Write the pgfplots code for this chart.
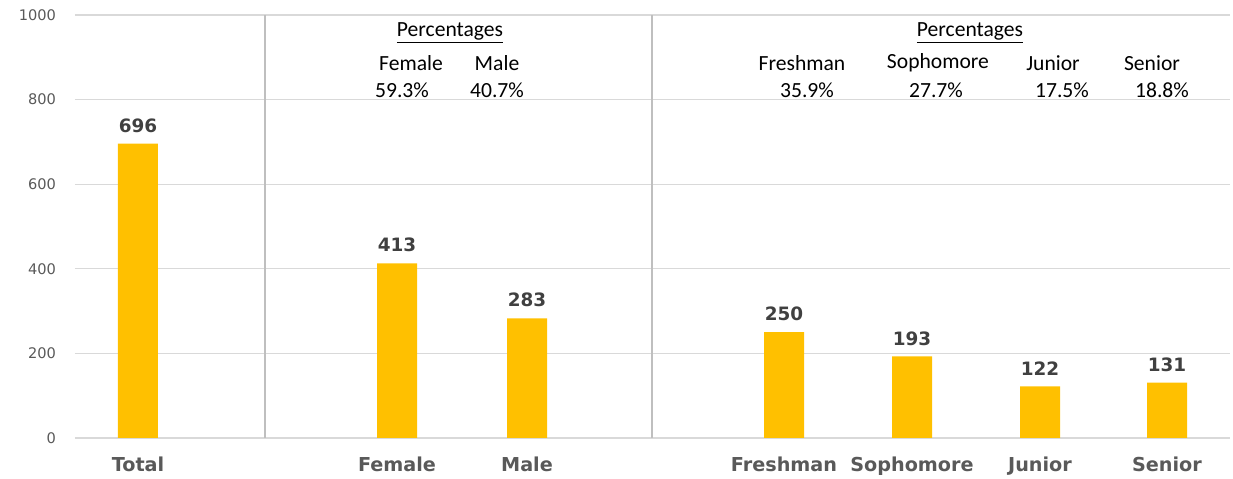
\documentclass[border=0pt]{standalone}
\usepackage{fontspec}
\setmainfont{Carlito}
\newfontfamily\dejavu{DejaVu Sans}
\usepackage{pgfplots}
\pgfplotsset{compat=1.18}
\definecolor{barc}{HTML}{FFC000}
\definecolor{gridc}{HTML}{D9D9D9}
\definecolor{sepc}{HTML}{BFBFBF}
\definecolor{tickc}{HTML}{595959}
\definecolor{labc}{HTML}{404040}
\begin{document}
\begin{tikzpicture}
\begin{axis}[
  scale only axis, width=577.5pt, height=211.5pt,
  xmin=75, xmax=1230, ymin=0, ymax=1000,
  axis line style={draw=none},
  major tick length=0pt,
  ymajorgrids, grid style={color=gridc, line width=0.6pt},
  ytick={0,200,400,600,800,1000},
  /pgf/number format/1000 sep={},
  /pgf/number format/assume math mode=true,
  yticklabel style={font=\dejavu\fontsize{7.3}{8}\selectfont, text=tickc, xshift=-6pt},
  xtick={138,397,527,784,912,1040,1167},
  xticklabels={Total,Female,Male,Freshman,Sophomore,Junior,Senior},
  xticklabel style={font=\dejavu\bfseries\fontsize{9.6}{10}\selectfont, text=tickc, yshift=-6pt},
  clip=false,
]
\addplot[ybar, fill=barc, draw=none, bar width=40,
  nodes near coords,
  every node near coord/.append style={font=\dejavu\bfseries\fontsize{9.2}{10}\selectfont, text=labc, yshift=2pt}]
  coordinates {(138,696) (397,413) (527,283) (784,250) (912,193) (1040,122) (1167,131)};
\draw[sepc, line width=0.6pt] (axis cs:265,0) -- (axis cs:265,1000);
\draw[sepc, line width=0.6pt] (axis cs:652,0) -- (axis cs:652,1000);
\begin{scope}[every node/.style={font=\fontsize{10.8}{12}\selectfont, text=black, inner sep=0pt}]
\node at (axis cs:450,957) {\underline{Percentages}};
\node at (axis cs:411,887) {Female};
\node at (axis cs:497,887) {Male};
\node at (axis cs:402,823) {59.3\%};
\node at (axis cs:497,823) {40.7\%};
\node at (axis cs:970,957) {\underline{Percentages}};
\node at (axis cs:802,887) {Freshman};
\node at (axis cs:938,887) {Sophomore};
\node at (axis cs:1053,887) {Junior};
\node at (axis cs:1152,887) {Senior};
\node at (axis cs:807,823) {35.9\%};
\node at (axis cs:936,823) {27.7\%};
\node at (axis cs:1062,823) {17.5\%};
\node at (axis cs:1162,823) {18.8\%};
\end{scope}
\coordinate (bl) at (rel axis cs:0,0);
\coordinate (tr) at (rel axis cs:1,1);
\end{axis}
\pgfresetboundingbox
\path[use as bounding box] ([xshift=-37.5pt,yshift=-20.5pt]bl) rectangle ([xshift=1.5pt,yshift=7.5pt]tr);
\end{tikzpicture}
\end{document}
